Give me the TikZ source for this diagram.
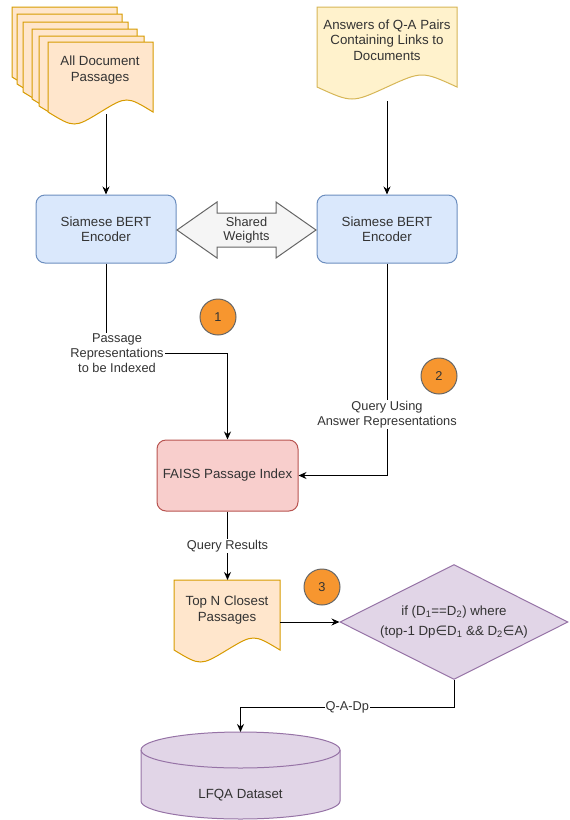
\documentclass[tikz,border=0pt]{standalone}
\usepackage{fontspec}
\setmainfont{Liberation Sans}
\newfontfamily\symfont{DejaVu Sans}
\usetikzlibrary{shapes.geometric,arrows.meta,positioning}

\definecolor{docfill}{HTML}{FFE6CC}
\definecolor{docdraw}{HTML}{D79B00}
\definecolor{ansfill}{HTML}{FFF2CC}
\definecolor{ansdraw}{HTML}{D6B656}
\definecolor{encfill}{HTML}{DAE8FC}
\definecolor{encdraw}{HTML}{6C8EBF}
\definecolor{idxfill}{HTML}{F8CECC}
\definecolor{idxdraw}{HTML}{B85450}
\definecolor{purfill}{HTML}{E1D5E7}
\definecolor{purdraw}{HTML}{9673A6}
\definecolor{badgefill}{HTML}{F7962F}
\definecolor{badgedraw}{HTML}{666666}
\definecolor{txt}{HTML}{333333}

\newcommand\mainsz{\fontsize{13.3}{15.5}\selectfont}
\newcommand\edgesz{\fontsize{12.8}{15}\selectfont}

% document shape: x, y, width, height, fill, draw
\newcommand\docshape[6]{%
  \filldraw[fill=#5,draw=#6,line width=1pt] (#1,#2) -- ++(#3,0) -- ++(0,#4)
    .. controls ({#1+0.75*#3},{#2+#4-16}) .. ({#1+0.5*#3},{#2+#4})
    .. controls ({#1+0.25*#3},{#2+#4+16}) .. (#1,{#2+#4}) -- cycle;}

\begin{document}
\begin{tikzpicture}[x=1pt,y=-1pt,line width=1pt,
  arr/.style={-{Stealth[length=8pt,width=7pt]}},
  encbox/.style={draw=encdraw,fill=encfill,rounded corners=9pt,minimum width=140pt,minimum height=68pt,align=center,font=\mainsz,text=txt},
  idxbox/.style={draw=idxdraw,fill=idxfill,rounded corners=9pt,minimum width=141pt,minimum height=71pt,align=center,font=\mainsz,text=txt,inner sep=1pt},
  decision/.style={diamond,draw=purdraw,fill=purfill,aspect=2,minimum width=228pt,minimum height=115pt,inner sep=0pt,align=center,font=\fontsize{13.3}{20}\selectfont,text=txt},
  doctext/.style={align=center,font=\mainsz,text=txt},
  lbl/.style={fill=white,inner sep=1pt,align=center,font=\edgesz,text=txt},
  badge/.style={circle,draw=badgedraw,fill=badgefill,minimum size=36pt,inner sep=0pt,font=\edgesz,text=txt}]
\useasboundingbox (0,0) rectangle (570,820);

\foreach \dx/\dy in {12/7,17/14,23/22,32/29,39/36,48/42}
  \docshape{\dx}{\dy}{105}{70}{docfill}{docdraw};
\node[doctext] (docs) at (100,70) {All Document\\Passages};
\coordinate (docsBot) at (106,114);

\docshape{317}{7}{140}{80}{ansfill}{ansdraw}
\node[doctext] (ans) at (387,40) {Answers of Q-A Pairs\\Containing Links to\\Documents};
\coordinate (ansBot) at (387,101);

\node[encbox] (encL) at (106,229) {Siamese BERT\\Encoder};
\node[encbox] (encR) at (387,229) {Siamese BERT\\Encoder};

\filldraw[fill=black!4,draw=black!60] (177,230) -- (217,202) -- (217,213) -- (276,213) -- (276,202)
  -- (316,230) -- (276,258) -- (276,247) -- (217,247) -- (217,258) -- cycle;
\node[font=\fontsize{12.8}{14.5}\selectfont,align=center,text=txt] (shw) at (246.5,230) {Shared\\Weights};

\node[idxbox] (faiss) at (227.5,475.5) {FAISS Passage Index};

\docshape{174}{580}{106}{70}{docfill}{docdraw}
\node[doctext] (topn) at (227,610) {Top N Closest\\Passages};
\coordinate (topTop) at (227.5,580);
\coordinate (topR) at (280,622);

\node[decision] (dia) at (454,622) {if (D\textsubscript{1}==D\textsubscript{2}) where\\(top-1 Dp{\symfont∈}D\textsubscript{1} \&\& D\textsubscript{2}{\symfont∈}A)};

\filldraw[fill=purfill,draw=purdraw] (141,750) -- (141,801)
  arc[start angle=180,end angle=360,x radius=99.5pt,y radius=18pt] -- (340,750)
  arc[start angle=0,end angle=180,x radius=99.5pt,y radius=18pt] -- cycle;
\draw[purdraw] (141,750) arc[start angle=180,end angle=360,x radius=99.5pt,y radius=18pt];
\node[doctext] (db) at (240.5,795) {LFQA Dataset};
\coordinate (dbTop) at (240.5,732);

\node[badge] (b1) at (218,317) {1};
\node[badge] (b2) at (439,376) {2};
\node[badge] (b3) at (322,587) {3};

\draw[arr] (docsBot) -- (encL.north);
\draw[arr] (ansBot) -- (encR.north);
\draw[arr] (encL.south) -- node[lbl,pos=1,xshift=11pt] {Passage\\Representations\\to be Indexed} ++(0,90) -| (faiss.north);
\draw[arr] (encR.south) |- node[lbl,pos=0.356] {Query Using\\Answer Representations} (faiss.east);
\draw[arr] (faiss.south) -- node[lbl] {Query Results} (topTop);
\draw[arr] (topR) -- (dia.west);
\draw[arr] (dia.south) -- ++(0,27) -| node[lbl,pos=0.25] {Q-A-Dp} (dbTop);
\end{tikzpicture}
\end{document}
